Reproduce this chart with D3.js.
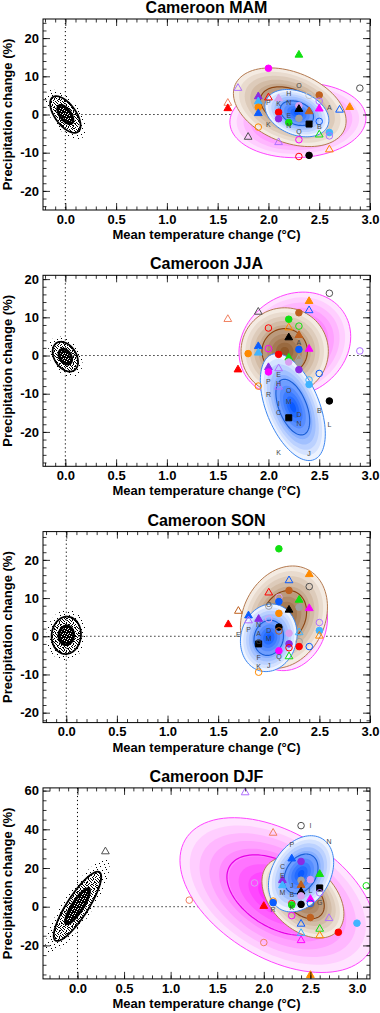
<!DOCTYPE html>
<html>
<head>
<meta charset="utf-8">
<script src="https://cdn.jsdelivr.net/npm/d3@7"></script>
<style>
body { margin: 0; background: #fff; }
svg text { font-family: "Liberation Sans", Arial, sans-serif; }
</style>
</head>
<body>
<svg id="chart"></svg>
<script>
// panels, top to bottom
const seasons = ["MAM", "JJA", "SON", "DJF"];
const xDomains = [[-0.22, 3.0], [-0.22, 3.0], [-0.23, 3.0], [-0.37, 3.14]];
const yDomains = [[-25, 25], [-29, 21], [-22.6, 27.4], [-37.3, 61.4]];
const yMajorStep = [10, 10, 10, 20];
const yMinorStep = [2, 2, 2, 5];
const xTickLabels = [0, 0.5, 1.0, 1.5, 2.0, 2.5, 3.0];

// natural variability cloud: [cx, cy, sx, sy, r]
const clouds = [
    [0.0, 0.0, 0.15, 4.8, -0.6],
    [0.0, -0.3, 0.125, 3.9, -0.35],
    [0.0, 0.25, 0.145, 4.9, 0.05],
    [0.0, 0.2, 0.255, 17.9, 0.85]
];

// model group ellipses: [cx, cy, sx, sy, r], drawn pink, brown, blue
const pinkEll = [
    [2.29, -1.5, 0.67, 9.8, 0.05],
    [2.26, 2.9, 0.55, 13.7, 0.15],
    [2.2, 3.0, 0.38, 12.0, 0.15],
    [2.15, 6.0, 1.05, 40.0, -0.45]
];
const brownEll = [
    [2.21, 1.9, 0.555, 10.3, -0.35],
    [2.16, 1.1, 0.43, 11.4, 0.0],
    [2.15, 5.0, 0.43, 13.4, 0.2],
    [2.42, 4.7, 0.44, 20.9, -0.4]
];
const blueEll = [
    [2.28, 0.35, 0.315, 6.2, -0.3],
    [2.24, -13.5, 0.32, 14.0, -0.5],
    [2.0, -0.4, 0.28, 8.85, 0.1],
    [2.4, 17.0, 0.35, 19.7, 0.3]
];

// model points: [x, y, symbol, colour]  (c/t/s open, C/T/S filled)
const mamPoints = [
    [2.3, 15.6, "T", "grn"], [2.0, 12.1, "C", "mag"], [2.9, 6.9, "c", "dgy"],
    [1.7, 6.9, "t", "vio"], [2.4, 5.0, "c", "lgy"], [2.5, 5.1, "C", "brn"],
    [2.5, 3.5, "c", "vio"], [1.9, 4.7, "T", "pur"], [1.9, 3.4, "T", "sky"],
    [1.9, 1.9, "C", "org"], [1.9, 0.3, "T", "blu"], [2.0, 4.4, "t", "red"],
    [2.1, 4.2, "T", "lil"], [2.3, 2.3, "C", "lil"], [2.3, 1.4, "T", "blk"],
    [2.4, 0.8, "T", "brn"], [2.5, 1.5, "T", "mag"], [2.7, 1.2, "t", "blu"],
    [2.8, 1.9, "T", "org"], [1.6, 3.0, "t", "sal"], [1.6, 1.6, "T", "red"],
    [2.1, 0.6, "C", "red"], [2.1, -1.1, "C", "pur"], [2.3, -1.0, "C", "gry"],
    [2.2, -2.1, "C", "grn"], [2.4, -2.5, "S", "blk"], [2.5, -1.8, "c", "blu"],
    [1.9, -3.3, "c", "org"], [2.6, -4.7, "C", "sky"], [2.6, -5.6, "c", "vio"],
    [2.5, -5.3, "t", "grn"], [1.8, -5.9, "t", "dgy"], [2.1, -7.3, "t", "vio"],
    [2.3, -6.6, "c", "mag"], [2.6, -9.2, "t", "org"], [2.3, -11.0, "c", "red"],
    [2.4, -10.7, "C", "blk"]
];
const jjaPoints = [
    [2.6, 16.3, "c", "dgy"], [2.4, 14.2, "T", "org"], [2.4, 11.8, "t", "blu"],
    [2.3, 11.2, "C", "brn"], [1.9, 11.4, "t", "dgy"], [1.6, 9.5, "t", "sal"],
    [2.2, 9.5, "C", "grn"], [2.2, 7.3, "t", "org"], [2.3, 7.7, "c", "grn"],
    [2.0, 7.2, "c", "red"], [2.3, 5.3, "T", "brn"], [2.2, 4.7, "T", "blk"],
    [1.9, 2.4, "T", "blu"], [1.9, 0.7, "T", "sky"], [2.0, 1.8, "c", "mag"],
    [2.3, 1.6, "C", "blu"], [2.4, 1.7, "T", "mag"], [1.8, 0.5, "C", "org"],
    [2.1, 0.3, "C", "red"], [2.9, 1.2, "c", "vio"], [2.2, -0.6, "T", "grn"],
    [2.3, -0.8, "t", "gry"], [2.2, -1.7, "C", "lil"], [2.3, -1.8, "C", "gry"],
    [1.7, -3.7, "T", "red"], [2.0, -3.1, "T", "pur"], [2.0, -4.3, "C", "mag"],
    [2.1, -3.4, "t", "vio"], [2.3, -3.7, "C", "pur"], [2.5, -4.7, "c", "blu"],
    [2.4, -6.4, "c", "sky"], [2.4, -7.6, "C", "sky"], [1.9, -8.0, "c", "org"],
    [2.1, -8.2, "t", "vio"], [2.6, -11.9, "C", "blk"], [2.2, -16.3, "S", "blk"]
];
const sonPoints = [
    [2.1, 22.9, "C", "grn"], [2.4, 16.2, "T", "org"], [2.2, 14.6, "t", "blu"],
    [2.4, 13.0, "c", "dgy"], [2.2, 12.0, "C", "brn"], [2.0, 11.4, "t", "red"],
    [2.3, 9.5, "T", "grn"], [2.3, 7.6, "C", "gry"], [2.1, 10.2, "c", "lil"],
    [2.1, 9.1, "C", "blu"], [2.0, 7.9, "c", "gry"], [2.1, 6.0, "C", "org"],
    [2.2, 6.9, "T", "blk"], [2.4, 7.3, "T", "mag"], [1.7, 6.6, "t", "brn"],
    [1.6, 3.1, "T", "red"], [1.8, 5.4, "T", "blu"], [1.8, 4.1, "t", "vio"],
    [1.9, 4.5, "T", "pur"], [2.0, 4.5, "c", "lil"], [2.1, 2.4, "C", "blk"],
    [2.1, 1.4, "c", "brn"], [2.5, 3.6, "c", "vio"], [2.5, 1.5, "C", "sky"],
    [2.5, 0.1, "t", "org"], [2.2, 0.8, "C", "lil"], [2.3, 1.0, "t", "sky"],
    [2.3, -1.4, "c", "gry"], [2.2, -2.0, "C", "pur"], [2.2, -3.0, "c", "red"],
    [2.3, -2.7, "C", "red"], [2.4, -2.7, "c", "blu"], [1.9, -2.0, "S", "blk"],
    [2.1, -3.8, "C", "mag"], [2.2, -5.3, "t", "grn"], [1.9, -9.4, "c", "org"]
];
const djfPoints = [
    [1.8, 59.0, "t", "vio"], [2.4, 41.9, "c", "dgy"], [2.1, 38.1, "t", "sal"],
    [0.3, 28.5, "t", "dgy"], [2.3, 24.8, "T", "blu"], [2.4, 23.4, "C", "pur"],
    [2.6, 16.8, "T", "grn"], [2.2, 13.7, "T", "pur"], [1.9, 12.3, "c", "lil"],
    [2.4, 13.7, "C", "gry"], [2.5, 14.0, "C", "lil"], [2.4, 11.1, "T", "brn"],
    [2.2, 11.0, "T", "sky"], [2.6, 9.7, "S", "blk"], [3.1, 10.8, "c", "grn"],
    [2.4, 7.7, "T", "blk"], [2.6, 7.2, "c", "vio"], [2.4, 5.6, "C", "lil"],
    [2.5, 3.9, "T", "mag"], [2.1, 2.9, "c", "org"], [2.1, 2.1, "C", "blu"],
    [2.0, 0.3, "T", "red"], [1.2, 3.4, "c", "sal"], [2.3, 1.6, "c", "red"],
    [2.3, 0.9, "C", "grn"], [2.4, 1.2, "C", "blk"], [2.5, 1.7, "c", "blu"],
    [2.3, -4.6, "c", "mag"], [2.5, -5.6, "C", "brn"], [2.7, -6.0, "t", "vio"],
    [2.4, -8.9, "t", "blu"], [3.0, -8.5, "C", "sky"], [2.6, -11.5, "t", "grn"],
    [2.8, -13.2, "C", "red"], [2.4, -13.7, "t", "sky"], [2.6, -14.9, "t", "org"],
    [2.4, -17.4, "t", "mag"], [2.0, -18.5, "c", "sal"], [2.5, -35.4, "T", "org"]
];
const points = [mamPoints, jjaPoints, sonPoints, djfPoints];

// model letters: [x, y, letter]
const mamLetters = [
    [2.3, 7.5, "O"], [2.0, 3.0, "P"], [2.1, 2.8, "K"], [2.2, 5.5, "H"],
    [2.2, 3.1, "N"], [2.6, 1.8, "A"], [2.2, -0.3, "E"], [2.2, -3.0, "N"],
    [2.0, -2.5, "K"], [2.5, -3.1, "B"], [2.3, -4.4, "Q"]
];
const jjaLetters = [
    [2.3, 3.3, "A"], [2.0, -6.9, "P"], [2.0, -10.1, "R"], [2.1, -4.9, "E"],
    [2.1, -7.3, "H"], [2.2, -9.2, "O"], [2.2, -12.1, "M"], [2.1, -12.5, "I"],
    [2.1, -15.0, "C"], [2.3, -15.4, "D"], [2.3, -17.9, "N"],
    [2.5, -14.4, "B"], [2.6, -18.0, "L"], [2.1, -25.4, "K"], [2.4, -25.7, "J"]
];
const sonLetters = [
    [2.0, 8.3, "O"], [1.8, 1.7, "P"], [1.9, 3.0, "N"], [1.9, 0.8, "A"],
    [1.9, -1.4, "G"], [2.0, 1.6, "D"], [2.0, -0.6, "M"], [1.7, 0.5, "E"],
    [2.1, -5.3, "Q"], [1.9, -5.5, "F"], [1.9, -7.9, "K"], [2.0, -7.6, "J"]
];
const djfLetters = [
    [2.5, 41.9, "I"], [2.3, 32.1, "P"], [2.7, 33.8, "N"], [2.2, 20.5, "C"],
    [2.2, 16.2, "E"], [2.3, 11.1, "J"], [2.2, 7.2, "M"], [2.3, 6.5, "B"],
    [2.5, 8.2, "L"], [2.1, -1.4, "R"], [2.3, -0.5, "K"], [2.6, 2.1, "G"]
];
const letters = [mamLetters, jjaLetters, sonLetters, djfLetters];

const colours = {
    red: "#ff0000", grn: "#10e010", mag: "#ff00ff", blu: "#0a5cff",
    sky: "#40b4ff", org: "#ff8a00", brn: "#c0601e", pur: "#8a2be2",
    vio: "#b070ff", lil: "#d8a0f0", gry: "#a0a0a0", lgy: "#c8c8c8",
    dgy: "#505050", blk: "#000000", sal: "#f08060"
};
const ellStyles = [
    { data: pinkEll, light: "#ffe4ff", dark: "#ff1aff", line: "#ff44ff", inner: "#e600e6" },
    { data: brownEll, light: "#f4ebe2", dark: "#8e5a2c", line: "#b47a50", inner: "#8b4513" },
    { data: blueEll, light: "#edf3ff", dark: "#0a5aff", line: "#3d87f0", inner: "#1a5fd8" }
];

const W = 380, H = 1013;
const left = 43, right = 370, plotH = 191;
const font = "Liberation Sans, Arial, sans-serif";

const svg = d3.select("#chart").attr("width", W).attr("height", H);
svg.append("rect").attr("width", W).attr("height", H).attr("fill", "#fff");

// speckle patterns for the control-run cloud (irregular tiles so no stripes)
const defs = svg.append("defs");
function speckle(id, size, dots, ink, bg) {
    const p = defs.append("pattern").attr("id", id)
        .attr("patternUnits", "userSpaceOnUse")
        .attr("width", size).attr("height", size);
    if (bg) p.append("rect").attr("width", size).attr("height", size).attr("fill", bg);
    dots.forEach(d => p.append("rect").attr("x", d[0]).attr("y", d[1]).attr("width", 1).attr("height", 1).attr("fill", ink));
}
speckle("dotsSparse", 9, [[1, 2], [5, 0], [7, 5], [3, 6], [0, 8], [6, 3]], "#000");
speckle("dotsMed", 7, [[0, 0], [3, 0], [5, 1], [1, 2], [4, 2], [6, 3], [2, 3], [0, 4], [4, 4],
    [1, 5], [5, 5], [3, 6], [6, 6], [2, 1]], "#000");
speckle("dotsDense", 5, [[1, 1], [3, 3], [4, 0], [0, 3], [2, 4]], "#fff", "#000");

function ellPoints(e, k, x, y) {
    const [cx, cy, sx, sy, r] = e;
    const q = Math.sqrt(1 - r * r);
    return d3.range(0, 97).map(i => {
        const t = i / 96 * 2 * Math.PI;
        return [x(cx + k * sx * Math.cos(t)), y(cy + k * sy * (r * Math.cos(t) + q * Math.sin(t)))];
    });
}
const line = d3.line().curve(d3.curveLinearClosed);

const symbolFor = { c: d3.symbolCircle, t: d3.symbolTriangle, s: d3.symbolSquare };
const sizeFor = { c: 34, t: 26, s: 36 };

seasons.forEach((season, i) => {
    const top = 19 + i * 256.3;
    const x = d3.scaleLinear().domain(xDomains[i]).range([left, right]);
    const y = d3.scaleLinear().domain(yDomains[i]).range([top + plotH, top]);

    const g = svg.append("g");
    const clipId = "clip" + i;
    defs.append("clipPath").attr("id", clipId)
        .append("rect").attr("x", left).attr("y", top).attr("width", right - left).attr("height", plotH);
    const plot = g.append("g").attr("clip-path", `url(#${clipId})`);

    // zero lines
    plot.append("line")
        .attr("x1", x(0)).attr("x2", x(0)).attr("y1", top).attr("y2", top + plotH)
        .attr("stroke", "#000").attr("stroke-width", 1).attr("stroke-dasharray", "1.2,2.8");
    plot.append("line")
        .attr("x1", x(0)).attr("x2", right).attr("y1", y(0)).attr("y2", y(0))
        .attr("stroke", "#000").attr("stroke-width", 1).attr("stroke-dasharray", "1.2,2.8");

    // control cloud
    const cl = clouds[i];
    [[1.35, "url(#dotsSparse)"], [1.0, "url(#dotsMed)"], [0.55, "url(#dotsDense)"]].forEach(f => {
        plot.append("path").attr("d", line(ellPoints(cl, f[0], x, y))).attr("fill", f[1]);
    });
    plot.append("path").attr("d", line(ellPoints(cl, 1, x, y)))
        .attr("fill", "none").attr("stroke", "#000").attr("stroke-width", 1.8);
    plot.append("path").attr("d", line(ellPoints(cl, 0.5, x, y)))
        .attr("fill", "none").attr("stroke", "#000").attr("stroke-width", 2.8);

    // shaded model ellipses
    const nBands = 10;
    ellStyles.forEach(st => {
        const e = st.data[i];
        const col = d3.interpolateRgb(st.light, st.dark);
        plot.append("g").selectAll("path")
            .data(d3.range(nBands))
            .enter()
            .append("path")
            .attr("d", j => line(ellPoints(e, 1 - j / nBands, x, y)))
            .attr("fill", j => col(j / (nBands - 1)));
        plot.append("path").attr("d", line(ellPoints(e, 1, x, y)))
            .attr("fill", "none").attr("stroke", st.line).attr("stroke-width", 1);
        plot.append("path").attr("d", line(ellPoints(e, 0.52, x, y)))
            .attr("fill", "none").attr("stroke", st.inner).attr("stroke-width", 1.2);
    });

    // model points
    plot.append("g").selectAll("path")
        .data(points[i])
        .enter()
        .append("path")
        .attr("transform", d => `translate(${x(d[0])},${y(d[1])})`)
        .attr("d", d => {
            const s = d[2].toLowerCase();
            return d3.symbol(symbolFor[s], sizeFor[s])();
        })
        .attr("fill", d => d[2] === d[2].toUpperCase() ? colours[d[3]] : "none")
        .attr("stroke", d => colours[d[3]])
        .attr("stroke-width", 1);

    plot.append("g").selectAll("text")
        .data(letters[i])
        .enter()
        .append("text")
        .text(d => d[2])
        .attr("x", d => x(d[0]))
        .attr("y", d => y(d[1]))
        .attr("dy", "0.35em")
        .attr("text-anchor", "middle")
        .attr("font-size", "7px")
        .attr("fill", "#444");

    // axes, ticks inward on all sides
    const xMinor = d3.range(Math.ceil(xDomains[i][0] * 10), Math.floor(xDomains[i][1] * 10) + 1).map(v => v / 10);
    const yMinor = d3.range(Math.ceil(yDomains[i][0] / yMinorStep[i]), Math.floor(yDomains[i][1] / yMinorStep[i]) + 1).map(v => v * yMinorStep[i]);
    const yMajor = yMinor.filter(v => v % yMajorStep[i] === 0);
    const noDomain = a => a.call(s => s.select(".domain").remove());

    g.append("g").attr("transform", `translate(0,${top + plotH})`)
        .call(d3.axisBottom(x).tickValues(xMinor).tickSize(-3.5).tickFormat("")).call(noDomain);
    g.append("g").attr("transform", `translate(0,${top})`)
        .call(d3.axisTop(x).tickValues(xMinor).tickSize(-3.5).tickFormat("")).call(noDomain);
    g.append("g").attr("transform", `translate(0,${top})`)
        .call(d3.axisTop(x).tickValues(xTickLabels).tickSize(-7).tickFormat("")).call(noDomain);
    g.append("g").attr("transform", `translate(0,${top + plotH})`)
        .call(d3.axisBottom(x).tickValues(xTickLabels).tickSize(-7).tickPadding(4.5).tickFormat(d3.format(".1f")))
        .call(noDomain)
        .attr("font-size", 13).attr("font-weight", "bold").attr("font-family", font);

    g.append("g").attr("transform", `translate(${right},0)`)
        .call(d3.axisRight(y).tickValues(yMinor).tickSize(-3.5).tickFormat("")).call(noDomain);
    g.append("g").attr("transform", `translate(${left},0)`)
        .call(d3.axisLeft(y).tickValues(yMinor).tickSize(-3.5).tickFormat("")).call(noDomain);
    g.append("g").attr("transform", `translate(${right},0)`)
        .call(d3.axisRight(y).tickValues(yMajor).tickSize(-7).tickFormat("")).call(noDomain);
    g.append("g").attr("transform", `translate(${left},0)`)
        .call(d3.axisLeft(y).tickValues(yMajor).tickSize(-7).tickPadding(4).tickFormat(d => String(d)))
        .call(noDomain)
        .attr("font-size", 13).attr("font-weight", "bold").attr("font-family", font);

    g.selectAll(".tick line").attr("stroke", "#000").attr("stroke-width", 0.8);
    g.selectAll(".tick text").attr("fill", "#000");

    g.append("rect")
        .attr("x", left).attr("y", top).attr("width", right - left).attr("height", plotH)
        .attr("fill", "none").attr("stroke", "#000").attr("stroke-width", 1);

    // titles
    g.append("text")
        .text("Cameroon " + season)
        .attr("x", (left + right) / 2).attr("y", top - 6)
        .attr("text-anchor", "middle")
        .attr("font-size", "16px").attr("font-weight", "bold");
    g.append("text")
        .text("Mean temperature change (\u00B0C)")
        .attr("x", (left + right) / 2).attr("y", top + plotH + 29)
        .attr("text-anchor", "middle")
        .attr("font-size", "13px").attr("font-weight", "bold");
    g.append("text")
        .text("Precipitation change (%)")
        .attr("transform", `translate(12,${top + plotH / 2}) rotate(-90)`)
        .attr("text-anchor", "middle")
        .attr("font-size", "13px").attr("font-weight", "bold");
});
</script>
</body>
</html>
